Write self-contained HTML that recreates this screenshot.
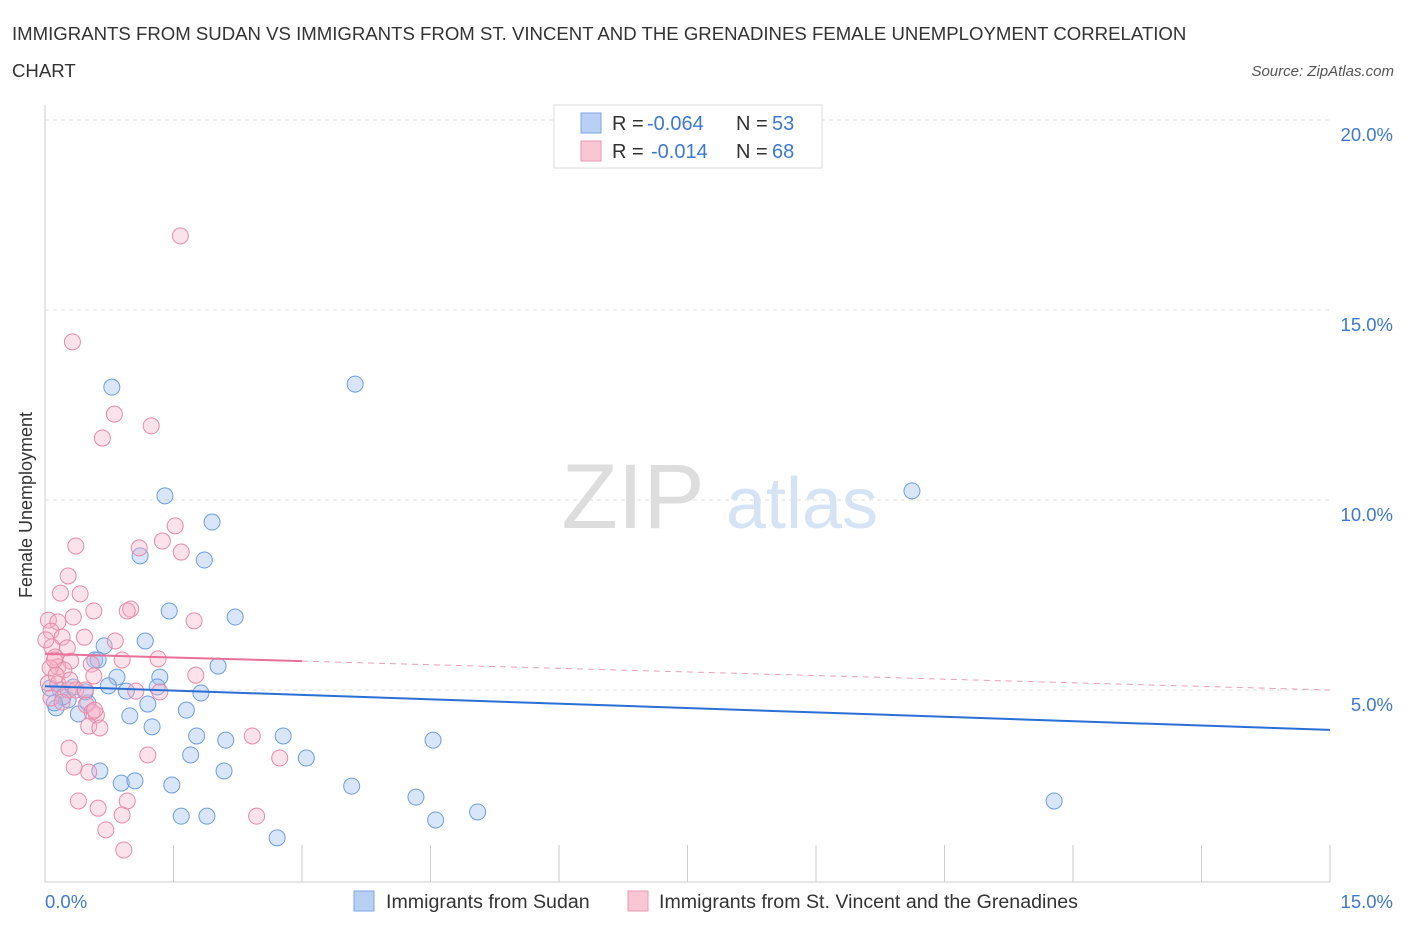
<!DOCTYPE html>
<html><head><meta charset="utf-8"><style>
body{margin:0;background:#fff;font-family:"Liberation Sans",sans-serif;}
svg text{font-family:"Liberation Sans",sans-serif;}
</style></head><body>
<svg id="c" width="1406" height="930" xmlns="http://www.w3.org/2000/svg">
<text x="12" y="40" font-size="18.6" fill="#333">IMMIGRANTS FROM SUDAN VS IMMIGRANTS FROM ST. VINCENT AND THE GRENADINES FEMALE UNEMPLOYMENT CORRELATION</text>
<text x="12" y="77" font-size="18.6" fill="#333">CHART</text>
<text x="1394" y="76" font-size="15" fill="#555" font-style="italic" text-anchor="end">Source: ZipAtlas.com</text>
<text x="22" y="495" font-size="18" fill="#333" transform="rotate(-90 32 495)" text-anchor="middle">Female Unemployment</text>
<g id="grid"></g>
<text x="633" y="528" font-size="92" fill="#ddd" font-family="Liberation Serif" text-anchor="middle">ZIP</text>
<text x="802" y="528" font-size="72" fill="#d5e3f5" text-anchor="middle">atlas</text>
<g id="pts"></g>
<g id="trend"></g>
<g>
<rect x="554" y="105" width="268" height="63" fill="#fff" stroke="#ddd"/>
<rect x="581" y="113" width="20" height="20" fill="#b9d0f5" stroke="#7ea6e4"/>
<text x="612" y="130" font-size="20" fill="#333">R =</text>
<text x="647" y="130" font-size="20" fill="#3f78d0">-0.064</text>
<text x="736" y="130" font-size="20" fill="#333">N =</text>
<text x="772" y="130" font-size="20" fill="#3f78d0">53</text>
<rect x="581" y="141" width="20" height="20" fill="#f9c6d5" stroke="#e99ab3"/>
<text x="612" y="158" font-size="20" fill="#333">R =</text>
<text x="651" y="158" font-size="20" fill="#3f78d0">-0.014</text>
<text x="736" y="158" font-size="20" fill="#333">N =</text>
<text x="772" y="158" font-size="20" fill="#3f78d0">68</text>
</g>
<g>
<rect x="354" y="891" width="20" height="20" fill="#b9d0f5" stroke="#7ea6e4"/>
<text x="386" y="908" font-size="19.6" fill="#333">Immigrants from Sudan</text>
<rect x="628" y="891" width="20" height="20" fill="#f9c6d5" stroke="#e99ab3"/>
<text x="659" y="908" font-size="19.6" fill="#333">Immigrants from St. Vincent and the Grenadines</text>
</g>
</svg>
<script>
const yTicks=[5,10,15,20];
const yTickLabels=["5.0%","10.0%","15.0%","20.0%"];
const xTickLabels=["0.0%","15.0%"];
const sudanX=[0.78,3.62,10.12,1.40,1.95,1.11,1.86,2.22,1.45,1.17,0.69,2.02,0.58,1.34,0.84,0.74,0.95,1.31,1.82,1.20,1.65,0.99,0.39,0.13,1.25,0.50,0.27,0.18,0.33,0.21,1.77,2.11,2.78,1.70,3.05,4.53,2.09,0.64,0.89,1.05,1.48,3.58,4.33,5.05,4.56,1.59,1.89,2.71,11.78,0.06,0.47,0.62,0.11];
const sudanY=[12.97,13.05,10.24,10.11,9.42,8.53,8.42,6.92,7.08,6.29,6.16,5.63,5.79,5.34,5.34,5.11,4.97,5.08,4.92,4.63,4.47,4.32,4.37,4.53,4.03,4.66,4.74,5.00,5.08,4.82,3.79,3.68,3.79,3.29,3.21,3.68,2.87,2.87,2.55,2.61,2.50,2.47,2.18,1.79,1.58,1.68,1.68,1.11,2.08,5.05,4.95,5.79,4.66];
const vincX=[1.58,0.32,0.81,1.24,0.67,1.52,0.36,1.10,1.59,1.37,0.27,0.18,0.41,0.57,1.00,0.96,0.33,1.74,0.04,0.15,0.07,0.20,0.46,0.82,0.08,0.26,0.12,0.30,0.90,1.32,0.54,0.15,0.22,0.57,1.76,0.04,0.15,0.27,0.36,1.06,1.34,0.07,0.48,0.60,0.55,0.58,0.51,0.64,2.42,2.74,1.20,0.28,0.34,0.51,0.39,0.96,0.62,0.90,0.71,0.92,2.47,0.01,0.06,0.11,0.20,0.47,0.29,0.13];
const vincY=[16.95,14.16,12.26,11.95,11.63,9.32,8.79,8.74,8.63,8.92,8.00,7.55,7.53,7.08,7.13,7.08,6.92,6.82,6.84,6.79,6.55,6.39,6.39,6.29,6.13,6.11,5.87,5.76,5.79,5.82,5.68,5.61,5.53,5.37,5.39,5.18,5.16,5.00,5.00,4.97,4.95,4.79,4.61,4.34,4.42,4.47,4.05,4.00,3.79,3.21,3.29,3.47,2.97,2.84,2.08,2.08,1.89,1.71,1.32,0.79,1.68,6.32,5.58,5.79,4.68,5.00,5.26,5.39];
const sudanTrend=[5.1,3.95];
const vincTrend=[5.95,5.0];
const NS="http://www.w3.org/2000/svg";
const X=v=>45+v/15*1285, Y=v=>880-v*38;
function mk(t,a,p){const e=document.createElementNS(NS,t);for(const k in a)e.setAttribute(k,a[k]);p.appendChild(e);return e;}
const grid=document.getElementById('grid');
let ax=mk('line',{x1:45,y1:105,x2:45,y2:882,stroke:'#ccc'},grid);


let bx=mk('line',{x1:45,y1:882,x2:1330,y2:882,stroke:'#ccc'},grid);


yTicks.forEach((t,i)=>{
 let g=mk('line',{x1:45,y1:Y(t),x2:1330,y2:Y(t),stroke:'#ddd','stroke-dasharray':'4,4'},grid);
 
 
 let l=mk('text',{x:1393,y:Y(t)+21,'font-size':18.5,fill:'#3f78d0','text-anchor':'end'},grid);l.textContent=yTickLabels[i];
 
 
});
for(let i=0;i<=10;i++){
 let tk=mk('line',{x1:X(i*1.5),y1:845,x2:X(i*1.5),y2:882,stroke:'#ccc'},grid);
 
 
}
let x0=mk('text',{x:45,y:908,'font-size':18.5,fill:'#3f78d0'},grid);x0.textContent=xTickLabels[0];


let x1=mk('text',{x:1393,y:908,'font-size':18.5,fill:'#3f78d0','text-anchor':'end'},grid);x1.textContent=xTickLabels[1];


const pts=document.getElementById('pts');
sudanX.forEach((v,i)=>{let c=mk('circle',{cx:X(v),cy:Y(sudanY[i]),r:8,fill:'rgba(160,192,240,0.4)',stroke:'#6d9de0','stroke-width':1},pts);
 
 });
vincX.forEach((v,i)=>{let c=mk('circle',{cx:X(v),cy:Y(vincY[i]),r:8,fill:'rgba(246,175,198,0.35)',stroke:'#e88aa8','stroke-width':1},pts);
 
 });
const tr=document.getElementById('trend');
let s=mk('line',{x1:X(0),y1:Y(sudanTrend[0]),x2:X(15),y2:Y(sudanTrend[1]),stroke:'#2a6fd6','stroke-width':2},tr);


const vy=x=>vincTrend[0]+(vincTrend[1]-vincTrend[0])*x/15;
let p1=mk('line',{x1:X(0),y1:Y(vy(0)),x2:X(3),y2:Y(vy(3)),stroke:'#e8709a','stroke-width':2},tr);


let p2=mk('line',{x1:X(3),y1:Y(vy(3)),x2:X(15),y2:Y(vy(15)),stroke:'#e8a0b8','stroke-width':1,'stroke-dasharray':'6,5'},tr);


</script>
</body></html>
